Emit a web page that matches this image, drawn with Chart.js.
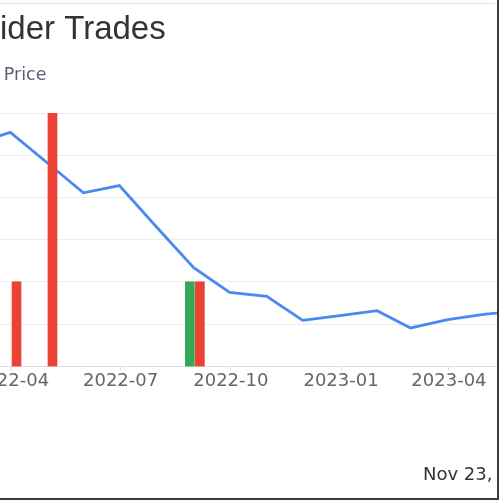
<!DOCTYPE html>
<html>
<head>
<meta charset="utf-8">
<script src="https://cdn.jsdelivr.net/npm/chart.js@4.4.1/dist/chart.umd.min.js"></script>
<style>
    html, body { margin: 0; padding: 0; background: #fff; }
    #frame {
        position: absolute; left: 0; top: 0;
        width: 497px; height: 498px;
        overflow: hidden;
        border-right: 2px solid #3c3c3c;
        border-bottom: 2px solid #3c3c3c;
        background: #fff;
    }
    #topline { position: absolute; left: 0; top: 3px; width: 495px; height: 1px; background: #e4e4e4; }
    #chart { position: absolute; left: -44px; top: 0; }
    #stamp {
        position: absolute; left: 423px; top: 465px;
        font: 18px "DejaVu Sans", sans-serif; line-height: 1;
        color: #333; white-space: nowrap;
    }
</style>
</head>
<body>
<div id="frame">
    <div id="topline"></div>
    <canvas id="chart" width="600" height="500"></canvas>
    <div id="stamp">Nov 23, 2023</div>
</div>
<script>
// month-end closing price
const priceDates = ['2022-02-28', '2022-03-31', '2022-04-30', '2022-05-31', '2022-06-30', '2022-07-31',
    '2022-08-31', '2022-09-30', '2022-10-31', '2022-11-30', '2022-12-31', '2023-01-31',
    '2023-02-28', '2023-03-31', '2023-04-30', '2023-05-31'];
const priceValues = [26.3, 27.7, 24.2, 20.55, 21.4, 16.5, 11.7, 8.75, 8.3, 5.45, 6.0, 6.6, 4.55, 5.55, 6.15, 6.6];

// insider trades per month
const buyDates = ['2022-09-01'];
const buyCounts = [2];
const sellDates = ['2022-04-01', '2022-05-01', '2022-09-01'];
const sellCounts = [2, 6, 2];

const tickMonths = ['2022-04', '2022-07', '2022-10', '2023-01', '2023-04'];
const xRange = ['2022-02-17', '2023-06-16'];

function dayNum(s) {
    const [y, m, d] = s.split('-').map(Number);
    return Date.UTC(y, m - 1, d || 1) / 86400000;
}

function toPoints(dates, values) {
    return dates.map((d, i) => ({ x: dayNum(d), y: values[i] }));
}

const tickDays = tickMonths.map(m => dayNum(m + '-01'));

// push the plot area down below the legend
const legendGap = {
    id: 'legendGap',
    afterInit(chart) {
        const fit = chart.legend.fit;
        chart.legend.fit = function () {
            fit.call(this);
            this.height += 18.6;
        };
    }
};

const sans = '"DejaVu Sans", sans-serif';

new Chart(document.getElementById('chart'), {
    type: 'bar',
    data: {
        datasets: [
            {
                label: 'Buy',
                data: toPoints(buyDates, buyCounts),
                yAxisID: 'y1',
                backgroundColor: '#34A853',
                barThickness: 10,
                maxBarThickness: 9
            },
            {
                label: 'Sell',
                data: toPoints(sellDates, sellCounts),
                yAxisID: 'y1',
                backgroundColor: '#EA4335',
                barThickness: 10,
                maxBarThickness: 9
            },
            {
                type: 'line',
                label: 'Price',
                data: toPoints(priceDates, priceValues),
                yAxisID: 'y',
                borderColor: '#4a88f2',
                backgroundColor: '#4a88f2',
                borderWidth: 2.8,
                pointRadius: 0,
                tension: 0
            }
        ]
    },
    options: {
        responsive: false,
        animation: false,
        layout: { padding: { top: 4, left: 0, right: 16, bottom: 108 } },
        plugins: {
            title: {
                display: true,
                text: 'Insider Trades',
                align: 'start',
                color: '#333',
                font: { family: '"Liberation Sans", Arial, sans-serif', size: 33, weight: 'normal' },
                padding: { top: 6.5, bottom: 6.8 }
            },
            legend: {
                align: 'start',
                labels: {
                    filter: item => item.text === 'Price',
                    boxWidth: 29,
                    color: '#5a5f78',
                    font: { family: sans, size: 17.5 }
                }
            },
            tooltip: { enabled: false }
        },
        scales: {
            x: {
                type: 'linear',
                offset: false,
                min: dayNum(xRange[0]),
                max: dayNum(xRange[1]),
                afterBuildTicks: s => { s.ticks = tickDays.map(v => ({ value: v })); },
                ticks: {
                    autoSkip: false,
                    maxRotation: 0,
                    padding: 0,
                    color: '#666',
                    font: { family: sans, size: 18 },
                    callback: v => tickMonths[tickDays.indexOf(v)]
                },
                grid: { offset: false, drawOnChartArea: false, tickLength: 4, color: '#dcdce2' },
                border: { color: '#dcdce2' }
            },
            y: {
                position: 'left',
                min: 0,
                max: 30,
                ticks: { stepSize: 5, display: false },
                grid: { color: '#ececec', drawTicks: false },
                border: { display: false },
                afterFit: s => { s.width = 4; }
            },
            y1: {
                display: false,
                min: 0,
                max: 6
            }
        }
    },
    plugins: [legendGap]
});
</script>
</body>
</html>
